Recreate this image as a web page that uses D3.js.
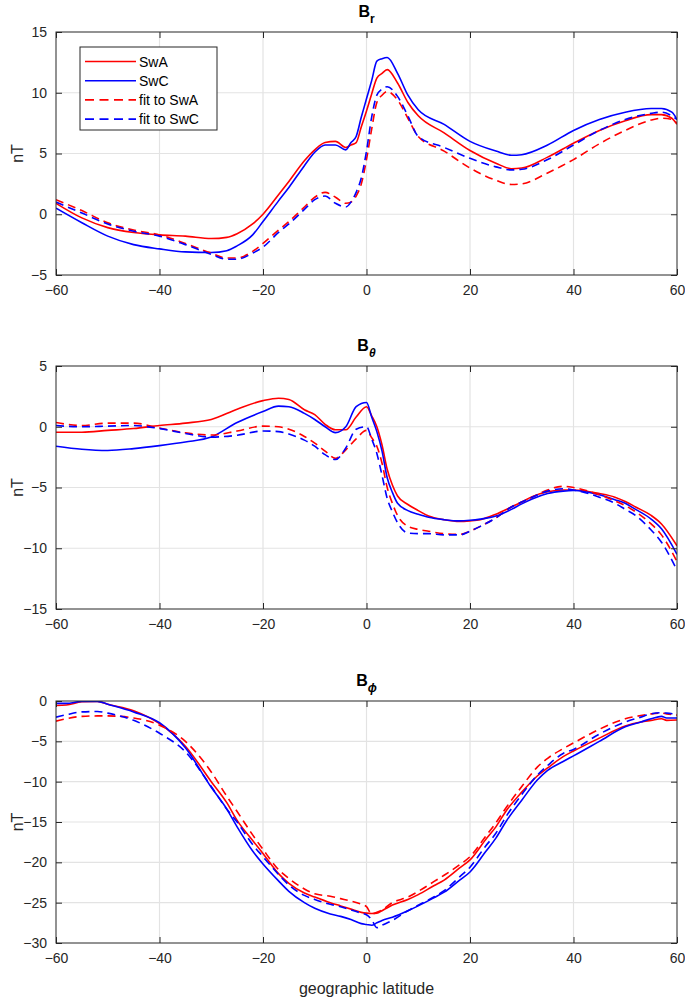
<!DOCTYPE html>
<html><head><meta charset="utf-8">
<script src="https://cdn.jsdelivr.net/npm/d3@7"></script>
<style>body{margin:0;background:#fff}svg{display:block;font-family:"Liberation Sans",Arial,Helvetica,sans-serif}</style>
</head><body><svg id="c" width="685" height="1000"></svg>
<script>
// ---------- data ----------
const latR = [-60,-55,-50,-45,-40,-35,-30,-27,-25,-22,-20,-17,-15,-12,-10,-8,-6,-4,-3,-2,-1,0,1,2,3,4,6,8,10,15,20,25,28,30,35,40,45,50,55,57,59,60];
const swA_r = [0.9,-0.3,-1.1,-1.5,-1.7,-1.8,-2.0,-1.9,-1.6,-0.8,0.0,1.6,2.7,4.4,5.3,5.9,6.0,5.5,5.7,5.9,7.2,8.5,9.9,11.2,11.6,11.9,10.8,9.2,8.1,6.7,5.25,4.2,3.75,3.8,4.7,5.85,6.9,7.7,8.2,8.2,7.9,7.4];
const swC_r = [0.5,-0.7,-1.8,-2.5,-2.85,-3.1,-3.15,-3.0,-2.6,-1.7,-0.6,1.1,2.2,4.0,5.1,5.7,5.7,5.3,5.9,6.4,8.0,9.5,11.0,12.6,12.8,12.9,11.6,9.8,8.6,7.4,6.0,5.2,4.85,4.9,5.7,6.9,7.8,8.4,8.7,8.7,8.4,7.8];
const fitA_r = [1.2,0.3,-0.7,-1.3,-1.7,-2.4,-3.2,-3.6,-3.6,-3.05,-2.4,-1.3,-0.6,0.6,1.4,1.8,1.4,0.9,1.0,1.5,2.5,4.5,7.0,9.2,9.8,10.1,9.4,7.9,6.4,5.2,3.8,2.8,2.45,2.5,3.4,4.5,5.8,6.9,7.75,7.9,7.8,7.5];
const fitC_r = [1.0,0.1,-0.8,-1.4,-1.8,-2.5,-3.3,-3.7,-3.7,-3.2,-2.7,-1.5,-0.8,0.4,1.2,1.5,0.9,0.6,1.0,1.8,3.0,5.2,8.0,9.8,10.3,10.5,9.7,8.1,6.4,5.5,4.6,3.9,3.65,3.7,4.5,5.7,6.9,7.8,8.3,8.4,8.1,7.8];

const latT = [-60,-55,-50,-45,-40,-35,-30,-25,-20,-17,-15,-12,-10,-8,-6,-4,-2,0,1,2,3,4,5,6,8,10,12,15,18,20,22,25,28,30,32,35,38,40,45,48,50,52,55,57,60];
const swA_t = [-0.45,-0.45,-0.3,-0.15,0.1,0.3,0.6,1.45,2.15,2.35,2.25,1.4,1.0,0.2,-0.25,-0.25,0.8,1.65,0.9,0.0,-1.5,-3.5,-4.8,-5.7,-6.4,-6.9,-7.35,-7.65,-7.8,-7.75,-7.65,-7.2,-6.6,-6.2,-5.75,-5.35,-5.2,-5.2,-5.5,-5.8,-6.15,-6.6,-7.3,-8.0,-9.8];
const swC_t = [-1.6,-1.85,-1.95,-1.8,-1.55,-1.25,-0.85,0.35,1.25,1.7,1.65,1.1,0.6,0.0,-0.48,0.0,1.65,2.0,0.8,-0.4,-2.0,-4.2,-5.4,-6.3,-6.9,-7.2,-7.45,-7.65,-7.75,-7.7,-7.6,-7.35,-6.8,-6.35,-5.95,-5.5,-5.3,-5.25,-5.6,-6.0,-6.3,-6.8,-7.6,-8.4,-10.5];
const fitA_t = [0.35,0.1,0.3,0.3,-0.1,-0.5,-0.68,-0.35,0.05,0.0,-0.2,-0.8,-1.35,-2.0,-2.6,-1.9,-1.0,-0.3,-0.9,-1.6,-3.0,-5.0,-6.3,-7.3,-8.2,-8.45,-8.6,-8.8,-8.85,-8.6,-8.2,-7.5,-6.6,-6.2,-5.8,-5.2,-4.9,-5.0,-5.6,-6.1,-6.5,-7.0,-8.0,-8.9,-11.1];
const fitC_t = [0.1,0.0,0.05,0.1,-0.15,-0.55,-0.85,-0.7,-0.35,-0.4,-0.6,-1.1,-1.6,-2.3,-2.7,-1.75,-0.2,0.0,-1.0,-2.2,-4.0,-5.9,-7.0,-7.9,-8.75,-8.8,-8.8,-8.9,-8.9,-8.6,-8.2,-7.5,-6.6,-6.2,-5.8,-5.3,-5.1,-5.2,-5.8,-6.3,-6.8,-7.3,-8.5,-9.5,-11.8];

const latP = [-60,-58,-55,-52,-50,-45,-40,-35,-30,-27,-25,-22,-20,-17,-15,-12,-10,-7,-5,-3,-1,0,1,2,3,5,8,10,13,15,18,20,23,25,27,30,33,35,38,40,45,50,53,55,57,58,60];
const swA_p = [-0.55,-0.5,-0.1,-0.05,-0.4,-1.2,-2.8,-5.6,-10.0,-12.6,-14.8,-17.3,-18.9,-21.4,-22.6,-23.8,-24.3,-25.0,-25.4,-25.8,-26.2,-26.3,-26.35,-26.3,-26.0,-25.3,-24.6,-24.0,-22.9,-22.2,-20.7,-19.7,-17.2,-15.6,-13.6,-11.3,-9.3,-8.3,-6.9,-6.2,-4.6,-3.1,-2.6,-2.4,-2.2,-2.4,-2.35];
const swC_p = [-0.3,-0.3,-0.05,-0.05,-0.4,-1.35,-2.7,-5.8,-10.7,-13.4,-15.6,-18.6,-20.2,-22.3,-23.6,-25.0,-25.7,-26.4,-26.7,-27.1,-27.6,-27.7,-27.8,-27.5,-27.2,-26.8,-26.0,-25.4,-24.4,-23.7,-22.2,-21.2,-18.7,-17.0,-14.9,-12.3,-9.8,-8.6,-7.5,-6.8,-5.0,-3.2,-2.6,-2.2,-1.9,-2.1,-2.1];
const fitA_p = [-2.5,-2.2,-1.9,-1.85,-1.85,-2.1,-3.0,-5.0,-8.8,-11.8,-13.7,-16.6,-18.4,-20.9,-22.0,-23.3,-23.9,-24.2,-24.5,-24.8,-25.2,-25.5,-26.4,-26.2,-25.9,-25.0,-24.3,-23.6,-22.4,-21.6,-20.3,-19.3,-16.8,-15.1,-13.2,-10.6,-8.2,-7.1,-5.9,-5.2,-3.5,-2.2,-1.8,-1.6,-1.5,-1.6,-1.75];
const fitC_p = [-2.0,-1.7,-1.35,-1.3,-1.5,-2.4,-4.0,-6.3,-10.6,-13.4,-15.0,-17.8,-19.3,-21.5,-22.8,-24.1,-24.6,-25.2,-25.5,-25.9,-26.3,-26.5,-27.1,-28.1,-27.8,-27.2,-26.0,-25.3,-24.3,-23.5,-21.8,-20.6,-18.0,-16.4,-14.3,-11.6,-9.2,-8.0,-6.5,-6.0,-4.1,-2.6,-2.0,-1.6,-1.45,-1.5,-1.65];

const xTicks = [-60,-40,-20,0,20,40,60];
const yTicksR = [-5,0,5,10,15];
const yTicksT = [-15,-10,-5,0,5];
const yTicksP = [-30,-25,-20,-15,-10,-5,0];
const seriesNames = ["SwA","SwC","fit to SwA","fit to SwC"];
const titles = [["B","r"],["B","θ"],["B","ϕ"]];

// ---------- drawing ----------
const svg = d3.select("#c");
const L = 56, R = 677;
const panels = [
  {top:32, bot:275, lat:latR, ser:[swA_r,swC_r,fitA_r,fitC_r], dom:[-5,15], ticks:yTicksR, title:titles[0], legend:true},
  {top:366, bot:609, lat:latT, ser:[swA_t,swC_t,fitA_t,fitC_t], dom:[-15,5], ticks:yTicksT, title:titles[1]},
  {top:701, bot:943, lat:latP, ser:[swA_p,swC_p,fitA_p,fitC_p], dom:[-30,0], ticks:yTicksP, title:titles[2], xlabel:true}
];
const colors = ["#ff0000","#0000ff","#ff0000","#0000ff"];
const dashes = [null,null,"8,5","8,5"];
const axCol = "#262626";

panels.forEach(p => {
  const x = d3.scaleLinear().domain([-60,60]).range([L,R]);
  const y = d3.scaleLinear().domain(p.dom).range([p.bot,p.top]);
  const g = svg.append("g");
  // grid
  g.selectAll(".gx").data(xTicks.slice(1,-1)).join("line")
    .attr("x1",d=>x(d)).attr("x2",d=>x(d)).attr("y1",p.top).attr("y2",p.bot)
    .attr("stroke","#e3e3e3").attr("stroke-width",1.2);
  g.selectAll(".gy").data(p.ticks.slice(1,-1)).join("line")
    .attr("y1",d=>y(d)).attr("y2",d=>y(d)).attr("x1",L).attr("x2",R)
    .attr("stroke","#e3e3e3").attr("stroke-width",1.2);
  // lines
  const clipId = "clip"+p.top;
  svg.append("clipPath").attr("id",clipId).append("rect").attr("x",L).attr("y",p.top).attr("width",R-L).attr("height",p.bot-p.top);
  p.ser.forEach((s,i) => {
    const line = d3.line().x((d,j)=>x(p.lat[j])).y(d=>y(d)).curve(d3.curveMonotoneX);
    g.append("path").attr("d",line(s)).attr("fill","none")
      .attr("stroke",colors[i]).attr("stroke-width",1.6)
      .attr("stroke-dasharray",dashes[i]).attr("stroke-linejoin","round")
      .attr("clip-path",`url(#${clipId})`);
  });
  // box
  g.append("rect").attr("x",L).attr("y",p.top).attr("width",R-L).attr("height",p.bot-p.top)
    .attr("fill","none").attr("stroke",axCol).attr("stroke-width",1);
  // axes with inward ticks
  const ax = d3.axisBottom(x).tickValues(xTicks).tickSize(-6).tickPadding(10).tickFormat(d3.format("d"));
  const axG = g.append("g").attr("transform",`translate(0,${p.bot})`).call(ax);
  const axT = g.append("g").attr("transform",`translate(0,${p.top})`).call(d3.axisTop(x).tickValues(xTicks).tickSize(-6).tickFormat(""));
  const ay = d3.axisLeft(y).tickValues(p.ticks).tickSize(-6).tickPadding(9).tickFormat(d3.format("d"));
  const ayG = g.append("g").attr("transform",`translate(${L},0)`).call(ay);
  const ayR = g.append("g").attr("transform",`translate(${R},0)`).call(d3.axisRight(y).tickValues(p.ticks).tickSize(-6).tickFormat(""));
  [axG,axT,ayG,ayR].forEach(a => {
    a.select(".domain").remove();
    a.selectAll(".tick line").attr("stroke",axCol);
    a.selectAll("text").attr("fill",axCol).style("font-size","14px").style("font-family","'Liberation Sans',Arial,sans-serif");
  });
  // y label
  svg.append("text").attr("transform",`translate(23,${(p.top+p.bot)/2}) rotate(-90)`)
    .attr("text-anchor","middle").attr("fill",axCol).style("font-size","16px").text("nT");
  // title
  const t = svg.append("text").attr("x",(L+R)/2).attr("y",p.top-15).attr("text-anchor","middle")
    .attr("fill","#000").style("font-weight","bold").style("font-size","16px");
  t.append("tspan").text(p.title[0]);
  t.append("tspan").attr("dy",6).style("font-size","12px").style("font-style",p.title[1]==="r"?"normal":"italic").text(p.title[1]);
  if (p.xlabel) {
    svg.append("text").attr("x",(L+R)/2).attr("y",994).attr("text-anchor","middle")
      .attr("fill",axCol).style("font-size","16px").text("geographic latitude");
  }
  if (p.legend) {
    const lg = svg.append("g").attr("transform","translate(80,47)");
    lg.append("rect").attr("width",137).attr("height",83).attr("fill","#fff").attr("stroke",axCol).attr("stroke-width",1);
    seriesNames.forEach((n,i) => {
      const yy = 14.5 + i*19.2;
      lg.append("line").attr("x1",5).attr("x2",56).attr("y1",yy).attr("y2",yy)
        .attr("stroke",colors[i]).attr("stroke-width",1.6).attr("stroke-dasharray",dashes[i] ? "9,5.5" : null);
      lg.append("text").attr("x",59).attr("y",yy+5).attr("fill","#000").style("font-size","14px").text(n);
    });
  }
});
</script></body></html>
